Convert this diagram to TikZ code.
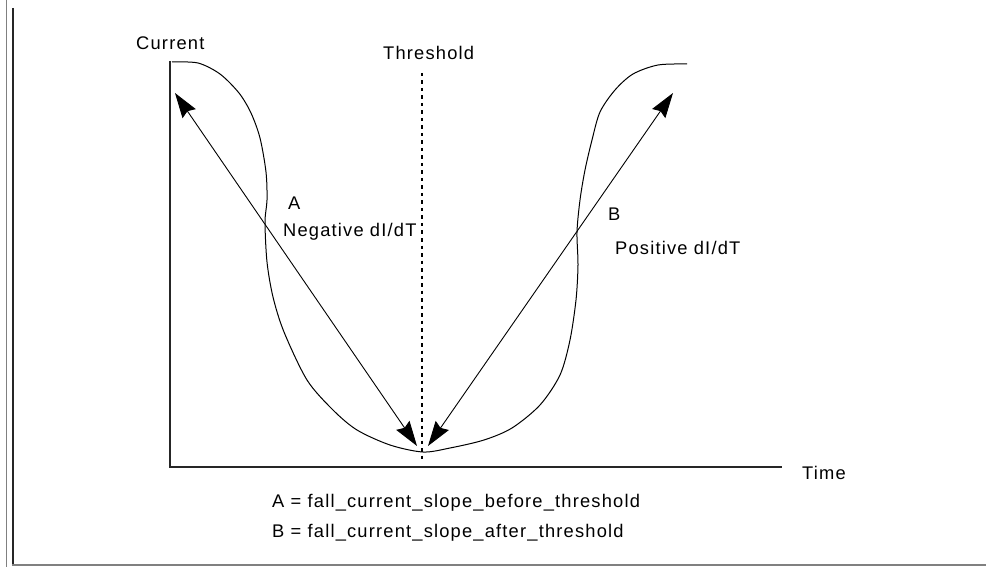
\documentclass[tikz,border=0pt]{standalone}
\usepackage{fontspec}
\setmainfont{Liberation Sans}[LetterSpace=6.5]
\usetikzlibrary{arrows.meta}
\begin{document}
\begin{tikzpicture}[x=1pt,y=-1pt,
  lbl/.style={anchor=base west,inner sep=0pt,font=\fontsize{18.3}{20}\selectfont},
  axis/.style={line width=1.6pt,draw=black!85},
  curve/.style={line width=1pt,black},
  slope/.style={line width=0.9pt,black,{Stealth[length=25pt,width=16pt,inset=3pt]}-{Stealth[length=25pt,width=16pt,inset=3pt]}},
  thr/.style={line width=1.3pt,black,dash pattern=on 3.5pt off 4pt}]
\useasboundingbox (0,0) rectangle (986,567);
% frame
\draw[line width=1.4pt,black!50] (6.5,0) -- (6.5,567);
\draw[line width=2pt,black!85] (13,8) -- (13,565);
\draw[line width=1.6pt,black!50] (12,565) -- (986,565);
% axes
\coordinate (o) at (170,467);
\coordinate (ytop) at (170,61);
\coordinate (xend) at (782,467);
\draw[axis] (ytop) -- (o) -- (xend);
% threshold
\coordinate (t1) at (422,73);
\coordinate (t2) at (422,459);
\draw[thr] (t1) -- (t2);
% curve
\draw[curve] plot[smooth,tension=0.5] coordinates {
 (172,62) (198,63) (220,74) (239,93) (251,113) (260,138) (266,172) (267,200)
 (265,222) (267,262) (273,297) (284,332) (307,380) (333,410) (357,430)
 (390,445) (423,452) (450,448) (484,440) (512,428) (540,405) (560,375)
 (570,340) (576,300) (578,265) (577,232) (580,200) (585,170) (592,140)
 (600,112) (615,90) (633,74) (658,65) (687,64)};
% slopes
\coordinate (a1) at (175,93);
\coordinate (a2) at (417,446);
\coordinate (b1) at (428,446);
\coordinate (b2) at (673,93);
\draw[slope] (a1) -- (a2);
\draw[slope] (b1) -- (b2);
% labels
\node[lbl] (cur) at (136,49.5) {Current};
\node[lbl] (thl) at (383,59.5) {Threshold};
\node[lbl] (la) at (288,209) {A};
\node[lbl] (neg) at (283,236.5) {Negative dI/dT};
\node[lbl] (lb) at (608,221) {B};
\node[lbl] (pos) at (615,254.5) {Positive dI/dT};
\node[lbl] (time) at (802,479) {Time};
\node[lbl] (eqa) at (272,507) {A = fall\_current\_slope\_before\_threshold};
\node[lbl] (eqb) at (272,537) {B = fall\_current\_slope\_after\_threshold};
\end{tikzpicture}
\end{document}
